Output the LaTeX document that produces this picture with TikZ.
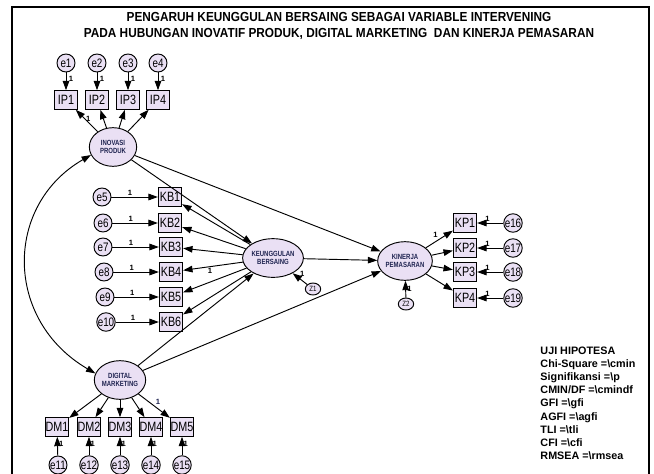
\documentclass[tikz,border=0pt]{standalone}
\usepackage{fontspec}
\setmainfont{Liberation Sans}
\newfontfamily\narrowfont[FakeStretch=0.8]{Liberation Sans}
\newfontfamily\titlefont[FakeStretch=0.9]{Liberation Sans}
\usetikzlibrary{arrows.meta}
\usetikzlibrary{shapes.geometric}
\definecolor{lav}{RGB}{234,224,244}
\definecolor{navy}{RGB}{30,35,80}

\begin{document}
\begin{tikzpicture}[x=0.03cm, y=-0.03cm, line width=0.8pt,
    >={Triangle[length=8pt,width=5.6pt]},
    obs/.style={rectangle, draw, fill=lav, inner sep=0pt, minimum width=0.7cm, minimum height=0.56cm, font=\narrowfont\fontsize{11.5}{11.5}\selectfont},
    err/.style={circle, draw, fill=lav, inner sep=0pt, minimum size=0.54cm, font=\narrowfont\fontsize{10.5}{10.5}\selectfont},
    dis/.style={ellipse, draw, fill=lav, inner sep=0pt, minimum width=0.46cm, minimum height=0.36cm, font=\narrowfont\fontsize{6.5}{6.5}\selectfont},
    lat/.style={ellipse, draw, fill=lav, inner sep=0pt, minimum width=1.42cm, minimum height=1.16cm, align=center, text=navy, font=\narrowfont\fontsize{6.4}{7.4}\selectfont\bfseries},
    one/.style={inner sep=1pt, font=\fontsize{6.5}{6.5}\selectfont\bfseries}]

      \useasboundingbox (0,0) rectangle (654,473);
      \draw[line width=1pt] (12,7) rectangle (649,490);

      % title
      \node[align=center, font=\titlefont\fontsize{11.2}{13.6}\selectfont\bfseries] (title) at (339,26) {PENGARUH KEUNGGULAN BERSAING SEBAGAI VARIABLE INTERVENING\\PADA HUBUNGAN INOVATIF PRODUK, DIGITAL MARKETING \ DAN KINERJA PEMASARAN};

      % latent variables
      \node[lat] (inov) at (113,147) {INOVASI\\PRODUK};
      \node[lat] (keung) at (273,258) {KEUNGGULAN\\BERSAING};
      \node[lat] (kin) at (405,261) {KINERJA\\PEMASARAN};
      \node[lat] (digi) at (120,380) {DIGITAL\\MARKETING};

      % inovasi produk
      \node[obs] (ip1) at (66,100) {IP1};
      \node[obs] (ip2) at (97,100) {IP2};
      \node[obs] (ip3) at (128,100) {IP3};
      \node[obs] (ip4) at (158,100) {IP4};
      \node[err] (e1) at (66,63) {e1};
      \node[err] (e2) at (97,63) {e2};
      \node[err] (e3) at (128,63) {e3};
      \node[err] (e4) at (158,63) {e4};

      % keunggulan bersaing
      \node[obs] (kb1) at (170,197) {KB1};
      \node[obs] (kb2) at (170,223) {KB2};
      \node[obs] (kb3) at (171,247) {KB3};
      \node[obs] (kb4) at (171,272) {KB4};
      \node[obs] (kb5) at (171,297) {KB5};
      \node[obs] (kb6) at (171,322) {KB6};
      \node[err] (e5) at (102,197) {e5};
      \node[err] (e6) at (103,223) {e6};
      \node[err] (e7) at (103,247) {e7};
      \node[err] (e8) at (104,272) {e8};
      \node[err] (e9) at (105,297) {e9};
      \node[err] (e10) at (106,322) {e10};
      \node[dis] (z1) at (313,289) {Z1};

      % kinerja pemasaran
      \node[obs] (kp1) at (465,223) {KP1};
      \node[obs] (kp2) at (465,248) {KP2};
      \node[obs] (kp3) at (465,272) {KP3};
      \node[obs] (kp4) at (465,298) {KP4};
      \node[err] (e16) at (513,223) {e16};
      \node[err] (e17) at (513,248) {e17};
      \node[err] (e18) at (513,272) {e18};
      \node[err] (e19) at (513,298) {e19};
      \node[dis] (z2) at (406,304) {Z2};

      % digital marketing
      \node[obs] (dm1) at (57,427) {DM1};
      \node[obs] (dm2) at (89,427) {DM2};
      \node[obs] (dm3) at (120,427) {DM3};
      \node[obs] (dm4) at (151,427) {DM4};
      \node[obs] (dm5) at (182,427) {DM5};
      \node[err] (e11) at (58,465) {e11};
      \node[err] (e12) at (89,465) {e12};
      \node[err] (e13) at (120,465) {e13};
      \node[err] (e14) at (151,465) {e14};
      \node[err] (e15) at (182,465) {e15};

      \draw[->] (e1) -- node[one, right=1pt, pos=0.35] {1} (ip1);
      \draw[->] (e2) -- node[one, right=1pt, pos=0.35] {1} (ip2);
      \draw[->] (e3) -- node[one, right=1pt, pos=0.35] {1} (ip3);
      \draw[->] (e4) -- node[one, right=1pt, pos=0.35] {1} (ip4);
      \draw[->] (inov) -- node[one, right, pos=0.6] {1} (ip1);
      \draw[->] (inov) -- (ip2);
      \draw[->] (inov) -- (ip3);
      \draw[->] (inov) -- (ip4);

      \draw[->] (e5) -- node[one, above, pos=0.4] {1} (kb1);
      \draw[->] (e6) -- node[one, above, pos=0.4] {1} (kb2);
      \draw[->] (e7) -- node[one, above, pos=0.4] {1} (kb3);
      \draw[->] (e8) -- node[one, above, pos=0.4] {1} (kb4);
      \draw[->] (e9) -- node[one, above, pos=0.4] {1} (kb5);
      \draw[->] (e10) -- node[one, above, pos=0.4] {1} (kb6);
      \draw[->] (keung) -- (kb1);
      \draw[->] (keung) -- (kb2);
      \draw[->] (keung) -- (kb3);
      \draw[->] (keung) -- node[one, below, pos=0.55] {1} (kb4);
      \draw[->] (keung) -- (kb5);
      \draw[->] (keung) -- (kb6);
      \draw[->] (z1) -- node[one, above right, pos=0.6] {1} (keung);

      \draw[->] (kin) -- node[one, above left, pos=0.5] {1} (kp1);
      \draw[->] (kin) -- (kp2);
      \draw[->] (kin) -- (kp3);
      \draw[->] (kin) -- (kp4);
      \draw[->] (e16) -- node[one, above, pos=0.6] {1} (kp1);
      \draw[->] (e17) -- node[one, above, pos=0.6] {1} (kp2);
      \draw[->] (e18) -- node[one, above, pos=0.6] {1} (kp3);
      \draw[->] (e19) -- node[one, above, pos=0.6] {1} (kp4);
      \draw[->] (z2) -- node[one, right, pos=0.5] {1} (kin);

      \draw[->] (digi) -- (dm1);
      \draw[->] (digi) -- (dm2);
      \draw[->] (digi) -- (dm3);
      \draw[->] (digi) -- (dm4);
      \draw[->] (digi) -- node[one, above right, pos=0.5, text=navy] {1} (dm5);
      \draw[->] (e11) -- node[one, right, pos=0.6] {1} (dm1);
      \draw[->] (e12) -- node[one, right, pos=0.6] {1} (dm2);
      \draw[->] (e13) -- node[one, right, pos=0.6] {1} (dm3);
      \draw[->] (e14) -- node[one, right, pos=0.6] {1} (dm4);
      \draw[->] (e15) -- node[one, right, pos=0.6] {1} (dm5);

      % structural paths
      \draw[->] (inov) -- (keung);
      \draw[->] (inov) -- (kin);
      \draw[->] (digi) -- (keung);
      \draw[->] (digi) -- (kin);
      \draw[->] (keung) -- (kin);
      \draw[<->] (inov.200) .. controls (4,205) and (4,320) .. (digi.165);

      % hipotesa
      \node[anchor=north west, align=left, inner sep=0pt, font=\fontsize{9.2}{11.3}\selectfont\bfseries] (uji) at (540,346) {UJI HIPOTESA\\Chi-Square =\textbackslash cmin\\Signifikansi =\textbackslash p\\CMIN/DF =\textbackslash cmindf\\GFI =\textbackslash gfi\\AGFI =\textbackslash agfi\\TLI =\textbackslash tli\\CFI =\textbackslash cfi\\RMSEA =\textbackslash rmsea};
    \end{tikzpicture}
\end{document}
